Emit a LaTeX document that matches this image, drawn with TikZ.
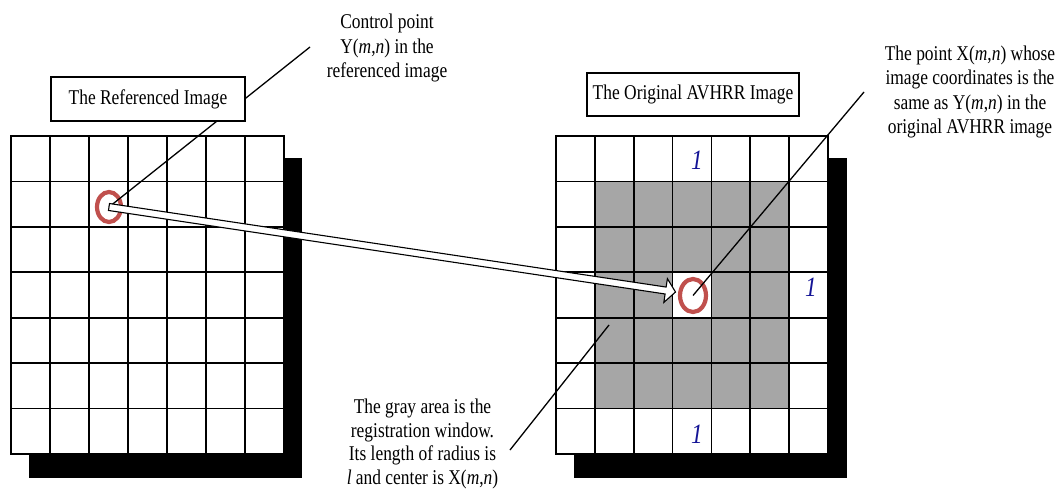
\documentclass[tikz,border=0pt]{standalone}
\usepackage{fontspec}
\setmainfont{Liberation Serif}[FakeStretch=0.83]
\usetikzlibrary{shapes.geometric,calc}
\definecolor{ringred}{RGB}{192,80,77}
\definecolor{wingray}{RGB}{166,166,166}
\definecolor{markblue}{RGB}{20,20,150}

\begin{document}
\begin{tikzpicture}[x=1pt,y=-1pt,
  txt/.style={font=\fontsize{21}{24.5}\selectfont},
  dropshadow/.style={fill=black},
  gridline/.style={line width=1.7pt,line cap=rect},
  labelbox/.style={txt,draw,line width=1.4pt,fill=white,inner sep=0pt},
  callout/.style={line width=1.3pt},
  ring/.style={ellipse,draw=ringred,line width=4.2pt,inner sep=0pt},
  radiusmark/.style={font=\fontsize{28}{28}\selectfont\itshape,text=markblue,inner sep=0pt},
  note/.style={txt,align=center,inner sep=0pt,anchor=north},
  blockarrow/.style={draw,line width=1.1pt,fill=white,line join=miter}
]
\useasboundingbox (0,0) rectangle (1059,490);

% ---- referenced image: 7x7 grid with drop shadow
\fill[dropshadow] (29,158) rectangle (302,478);
\fill[white] (11,136) rectangle (284,454);
\foreach \i in {0,...,7}
  \draw[gridline] ({11+39*\i},136) -- ({11+39*\i},454);
\foreach \j in {0,...,7}
  \draw[gridline] (11,{136+45.43*\j}) -- (284,{136+45.43*\j});

% ---- original AVHRR image: 7x7 grid, gray registration window
\fill[dropshadow] (574,158) rectangle (847,478);
\fill[white] (556,136) rectangle (828,454);
\fill[wingray] (594.86,181.43) rectangle (789.14,408.57);
\fill[white] (672.57,272.29) rectangle (711.43,317.71);
\foreach \i in {0,...,7}
  \draw[gridline] ({556+38.857*\i},136) -- ({556+38.857*\i},454);
\foreach \j in {0,...,7}
  \draw[gridline] (556,{136+45.43*\j}) -- (828,{136+45.43*\j});

% radius marks
\node[radiusmark] (markTop) at (697,160) {1};
\node[radiusmark] (markRight) at (811,287) {1};
\node[radiusmark] (markBottom) at (697,434.5) {1};

% control point and matching point
\node[ring,minimum width=24,minimum height=30] (ringY) at (109,207) {};
\node[ring,minimum width=26,minimum height=33] (ringX) at (693,295.5) {};

% callout of the control point, passing behind the title box
\coordinate (cpEnd) at (310,47);
\draw[callout] (ringY.center) -- (cpEnd);

% titles
\node[labelbox,minimum width=194,minimum height=44] (refTitle) at (148,99) {The Referenced Image};
\node[labelbox,minimum width=212,minimum height=43] (avhrrTitle) at (693,94.5) {The Original AVHRR Image};

% callouts of the matching point and of the window
\coordinate (xpEnd) at (864,92);
\draw[callout] (ringX.center) -- (xpEnd);
\coordinate (gwTop) at (609,325);
\coordinate (gwEnd) at (510,450);
\draw[callout] (gwTop) -- (gwEnd);

% block arrow from Y(m,n) to X(m,n)
\coordinate (tip) at (675.5,292);
\coordinate (hb) at ($(tip)!10pt!(ringY.center)$);
\draw[blockarrow]
  ($(ringY.center)!3.5pt!90:(tip)$) -- ($(hb)!3.5pt!90:(tip)$)
  -- ($(hb)!12pt!90:(tip)$) -- (tip) -- ($(hb)!12pt!-90:(tip)$)
  -- ($(hb)!3.5pt!-90:(tip)$) -- ($(ringY.center)!3.5pt!-90:(tip)$) -- cycle;

% notes
\node[note] (cpText) at (387,14)
  {Control point\\Y(\textit{m},\textit{n}) in the\\referenced image};
\node[note] (xpText) at (970,45.5)
  {The point X(\textit{m},\textit{n}) whose\\image coordinates is the\\same as Y(\textit{m},\textit{n}) in the\\original AVHRR image};
\node[note,font=\fontsize{21}{23.4}\selectfont] (gwText) at (422.5,399.2)
  {The gray area is the\\registration window.\\Its length of radius is\\\textit{l} and center is X(\textit{m},\textit{n})};
\end{tikzpicture}
\end{document}
